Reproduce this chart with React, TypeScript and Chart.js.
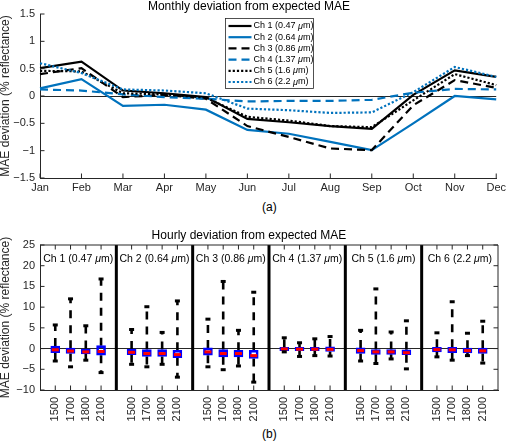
import React, { useEffect, useRef } from 'react';
import { Chart, registerables } from 'chart.js';

Chart.register(...registerables);

const FONT = '"Liberation Sans", Arial, Helvetica, sans-serif';
const AXIS = '#262626';
const MBLUE = '#0072BD';

// ---------- panel (a): monthly deviation ----------
const months = ['Jan', 'Feb', 'Mar', 'Apr', 'May', 'Jun', 'Jul', 'Aug', 'Sep', 'Oct', 'Nov', 'Dec'];
const ch1Monthly = [0.51, 0.63, 0.10, 0.05, -0.02, -0.42, -0.48, -0.55, -0.60, 0.02, 0.47, 0.35];
const ch2Monthly = [0.14, 0.31, -0.18, -0.16, -0.25, -0.62, -0.69, -0.84, -0.99, -0.50, 0.00, -0.06];
const ch3Monthly = [0.40, 0.51, -0.02, 0.02, -0.05, -0.55, -0.75, -0.96, -0.99, -0.17, 0.29, 0.15];
const ch4Monthly = [0.12, 0.10, 0.03, -0.02, -0.05, -0.10, -0.09, -0.09, -0.07, 0.06, 0.13, 0.12];
const ch5Monthly = [0.46, 0.45, 0.05, 0.03, -0.03, -0.38, -0.45, -0.55, -0.57, -0.08, 0.40, 0.20];
const ch6Monthly = [0.60, 0.42, 0.12, 0.10, 0.05, -0.23, -0.26, -0.31, -0.30, 0.07, 0.53, 0.35];
const monthlyMin = -1.5;
const monthlyMax = 1.5;
const monthlyStep = 0.5;

const channelLabels = ['Ch 1', 'Ch 2', 'Ch 3', 'Ch 4', 'Ch 5', 'Ch 6'];
const channelWavelengths = ['0.47', '0.64', '0.86', '1.37', '1.6', '2.2'];

// ---------- panel (b): hourly deviation box plots ----------
const hours = ['1500', '1700', '1800', '2100'];
const upperAdjacent = [
  [5.7, 12.0, 5.5, 16.8],
  [4.6, 10.1, 3.9, 11.5],
  [7.1, 16.2, 4.4, 13.6],
  [2.6, 1.4, 2.35, 2.9],
  [4.4, 14.4, 4.0, 6.7],
  [3.8, 11.3, 3.7, 6.6],
];
const upperQuartile = [
  [0.6, 0.1, 0.0, 0.7],
  [-0.1, -0.25, -0.25, -0.4],
  [0.15, -0.25, -0.4, -0.4],
  [0.3, 0.3, 0.3, 0.4],
  [0.15, -0.25, -0.25, -0.3],
  [0.3, 0.3, 0.1, 0.1],
];
const medians = [
  [-0.3, -0.6, -0.8, -0.7],
  [-0.9, -1.2, -1.2, -1.45],
  [-0.8, -1.2, -1.2, -1.7],
  [-0.1, -0.15, -0.15, -0.2],
  [-0.5, -0.8, -0.8, -1.0],
  [-0.25, -0.3, -0.5, -0.55],
];
const lowerQuartile = [
  [-1.0, -1.2, -1.3, -1.6],
  [-1.5, -1.9, -1.9, -2.2],
  [-1.6, -2.0, -2.0, -2.4],
  [-0.5, -0.5, -0.5, -0.7],
  [-1.2, -1.4, -1.4, -1.5],
  [-0.8, -1.0, -1.05, -1.2],
];
const lowerAdjacent = [
  [-3.0, -4.4, -2.8, -5.8],
  [-3.8, -4.4, -3.8, -6.9],
  [-4.4, -5.1, -4.2, -8.1],
  [-0.8, -1.9, -1.7, -1.8],
  [-3.0, -3.6, -2.5, -4.9],
  [-2.0, -2.8, -1.7, -3.5],
];
const hourlyMin = -10;
const hourlyMax = 25;
const hourlyStep = 5;
const groupWidth = 5; // boxes at 1..4, separator at 5, etc.

const fmt = (v: number) => (v < 0 ? '\u2212' : '') + String(Math.abs(Math.round(v * 100) / 100));

function drawRich(ctx: CanvasRenderingContext2D, x: number, y: number, size: number, align: string, i: number) {
  const plain = `${size}px ${FONT}`;
  const ital = `italic ${size}px ${FONT}`;
  const parts: [string, string][] = [
    [`${channelLabels[i]} (${channelWavelengths[i]} `, plain],
    ['\u03bc', ital],
    ['m)', plain],
  ];
  let total = 0;
  const ws = parts.map(([t, f]) => {
    ctx.font = f;
    const w = ctx.measureText(t).width;
    total += w;
    return w;
  });
  let cx = align === 'center' ? x - total / 2 : x;
  ctx.fillStyle = '#000';
  ctx.textBaseline = 'middle';
  ctx.textAlign = 'left';
  parts.forEach(([t, f], k) => {
    ctx.font = f;
    ctx.fillText(t, cx, y);
    cx += ws[k];
  });
}

const innerTicks = {
  id: 'innerTicks',
  afterDatasetsDraw(chart: any, _args: any, opts: any) {
    const { ctx, chartArea: a } = chart;
    const xs = chart.scales.x;
    const ys = chart.scales.y;
    const L = 4.5;
    ctx.save();
    ctx.strokeStyle = AXIS;
    ctx.lineWidth = 1;
    ctx.setLineDash([]);
    ctx.beginPath();
    ys.ticks.forEach((t: any) => {
      const p = ys.getPixelForValue(t.value);
      ctx.moveTo(a.left, p);
      ctx.lineTo(a.left + L, p);
      if (opts.box) {
        ctx.moveTo(a.right, p);
        ctx.lineTo(a.right - L, p);
      }
    });
    xs.ticks.forEach((_t: any, k: number) => {
      const p = xs.getPixelForTick(k);
      ctx.moveTo(p, a.bottom);
      ctx.lineTo(p, a.bottom - L);
      if (opts.box) {
        ctx.moveTo(p, a.top);
        ctx.lineTo(p, a.top + L);
      }
    });
    if (opts.box) {
      ctx.moveTo(a.left, a.top);
      ctx.lineTo(a.right, a.top);
      ctx.lineTo(a.right, a.bottom);
    }
    ctx.stroke();
    ctx.restore();
  },
};

const boxLegend = {
  id: 'boxLegend',
  afterDatasetsDraw(chart: any) {
    const { ctx } = chart;
    const x0 = 225.5;
    const y0 = 18.5;
    const w = 88;
    const h = 70;
    ctx.save();
    ctx.fillStyle = '#fff';
    ctx.fillRect(x0, y0, w, h);
    ctx.strokeStyle = AXIS;
    ctx.lineWidth = 0.8;
    ctx.setLineDash([]);
    ctx.strokeRect(x0, y0, w, h);
    chart.data.datasets.forEach((ds: any, i: number) => {
      const y = y0 + 7.5 + i * 11.2;
      ctx.beginPath();
      ctx.setLineDash(ds.borderDash || []);
      ctx.strokeStyle = ds.borderColor;
      ctx.lineWidth = ds.borderWidth;
      ctx.moveTo(x0 + 3, y);
      ctx.lineTo(x0 + 26, y);
      ctx.stroke();
      ctx.setLineDash([]);
      drawRich(ctx, x0 + 28, y, 9, 'left', i);
    });
    ctx.restore();
  },
};

const groupLabels = {
  id: 'groupLabels',
  afterDatasetsDraw(chart: any) {
    const { ctx, chartArea: a } = chart;
    const xs = chart.scales.x;
    ctx.save();
    channelLabels.forEach((_l, i) => {
      drawRich(ctx, xs.getPixelForValue(i * groupWidth + groupWidth / 2), a.top + 14, 10.5, 'center', i);
    });
    ctx.restore();
  },
};

function MonthlyChart() {
  const ref = useRef<HTMLCanvasElement>(null);
  useEffect(() => {
    const series = [ch1Monthly, ch2Monthly, ch3Monthly, ch4Monthly, ch5Monthly, ch6Monthly];
    const colors = ['#000000', MBLUE, '#000000', MBLUE, '#000000', MBLUE];
    const dashes = [[], [], [8, 5], [8, 5], [2.2, 2], [2.2, 2]];
    const chart = new Chart(ref.current!, {
      type: 'line',
      data: {
        labels: months,
        datasets: series.map((d, i) => ({
          label: channelLabels[i],
          data: d,
          borderColor: colors[i],
          backgroundColor: colors[i],
          borderWidth: 2.2,
          borderDash: dashes[i],
          pointRadius: 0,
          tension: 0,
          fill: false,
          order: 5 - i,
        })),
      },
      options: {
        responsive: false,
        animation: false,
        devicePixelRatio: 1,
        events: [],
        layout: { padding: { left: 0, right: 11, top: 0, bottom: 0 } },
        plugins: {
          legend: { display: false },
          tooltip: { enabled: false },
          title: {
            display: true,
            text: 'Monthly deviation from expected MAE',
            color: '#000',
            font: { family: FONT, size: 12, weight: 'normal', lineHeight: 1.1 },
            padding: { top: 0, bottom: 0.8 },
          },
          innerTicks: { box: false },
        } as any,
        scales: {
          x: {
            grid: { display: false, drawTicks: false },
            border: { display: true, color: AXIS, width: 1 },
            ticks: { color: AXIS, font: { family: FONT, size: 11 }, padding: 3, maxRotation: 0, autoSkip: false },
            afterFit: (s: any) => { s.height = 22; },
          },
          y: {
            min: monthlyMin,
            max: monthlyMax,
            ticks: { stepSize: monthlyStep, color: AXIS, font: { family: FONT, size: 11 }, padding: 5, callback: (v: any) => fmt(Number(v)) },
            grid: {
              drawTicks: false,
              color: (c: any) => (c.tick && c.tick.value === 0 ? AXIS : 'rgba(0,0,0,0)'),
              lineWidth: 1,
            },
            border: { display: true, color: AXIS, width: 1 },
            title: {
              display: true,
              text: 'MAE deviation (% reflectance)',
              color: AXIS,
              font: { family: FONT, size: 12, lineHeight: 1 },
              padding: { top: 0, bottom: 0 },
            },
            afterFit: (s: any) => { s.width = 40; },
          },
        },
      } as any,
      plugins: [innerTicks, boxLegend],
    });
    return () => chart.destroy();
  }, []);
  return <canvas ref={ref} width={509} height={200} style={{ position: 'absolute', left: 0, top: 0, width: 509, height: 200 }} />;
}

function HourlyChart() {
  const ref = useRef<HTMLCanvasElement>(null);
  useEffect(() => {
    const boxPos = (c: number, h: number) => c * groupWidth + h + 1;
    const positions: number[] = [];
    const whiskers: any[] = [];
    const boxes: any[] = [];
    const meds: any[] = [];
    const caps: any[] = [];
    channelLabels.forEach((_l, c) => {
      hours.forEach((_h, h) => {
        const x = boxPos(c, h);
        positions.push(x);
        whiskers.push(
          { x, y: upperQuartile[c][h] }, { x, y: upperAdjacent[c][h] }, { x, y: null },
          { x, y: lowerQuartile[c][h] }, { x, y: lowerAdjacent[c][h] }, { x, y: null },
        );
        boxes.push({ x, y: [lowerQuartile[c][h], upperQuartile[c][h]] });
        meds.push({ x, y: medians[c][h] });
        caps.push({ x, y: upperAdjacent[c][h] }, { x, y: lowerAdjacent[c][h] });
      });
    });
    const separators: any[] = [];
    for (let c = 1; c < channelLabels.length; c++) {
      const x = c * groupWidth;
      separators.push({ x, y: hourlyMin }, { x, y: hourlyMax }, { x, y: null });
    }
    const chart = new Chart(ref.current!, {
      type: 'bar',
      data: {
        datasets: [
          {
            type: 'scatter',
            data: caps,
            showLine: false,
            pointStyle: 'line',
            pointRadius: 2.5,
            pointBorderWidth: 3,
            pointBorderColor: '#000',
            pointBackgroundColor: '#000',
            order: 0,
          },
          {
            type: 'scatter',
            data: meds,
            showLine: false,
            pointStyle: 'line',
            pointRadius: 3.5,
            pointBorderWidth: 3,
            pointBorderColor: '#ff0000',
            pointBackgroundColor: '#ff0000',
            order: 1,
          },
          {
            type: 'bar',
            data: boxes,
            barThickness: 9,
            borderWidth: 2,
            borderColor: '#0000ff',
            backgroundColor: 'rgba(0,0,0,0)',
            borderSkipped: false,
            order: 2,
          },
          {
            type: 'scatter',
            data: whiskers,
            showLine: true,
            spanGaps: false,
            borderColor: '#000',
            borderWidth: 2.6,
            borderDash: [8, 7],
            pointRadius: 0,
            order: 3,
          },
          {
            type: 'scatter',
            data: separators,
            showLine: true,
            spanGaps: false,
            borderColor: '#000',
            borderWidth: 3,
            pointRadius: 0,
            order: 4,
          },
        ],
      } as any,
      options: {
        responsive: false,
        animation: false,
        devicePixelRatio: 1,
        events: [],
        layout: { padding: { left: 0, right: 11, top: 0, bottom: 0 } },
        plugins: {
          legend: { display: false },
          tooltip: { enabled: false },
          title: {
            display: true,
            text: 'Hourly deviation from expected MAE',
            color: '#000',
            font: { family: FONT, size: 12, weight: 'normal', lineHeight: 1.2 },
            padding: { top: 6.3, bottom: 2.3 },
          },
          innerTicks: { box: true },
        } as any,
        scales: {
          x: {
            type: 'linear',
            min: 0,
            max: channelLabels.length * groupWidth,
            offset: false,
            grid: { display: false, drawTicks: false, offset: false },
            border: { display: true, color: AXIS, width: 1 },
            afterBuildTicks: (s: any) => { s.ticks = positions.map((v) => ({ value: v })); },
            ticks: {
              color: AXIS,
              font: { family: FONT, size: 11 },
              padding: 7,
              minRotation: 90,
              maxRotation: 90,
              autoSkip: false,
              callback: (v: any) => hours[(Math.round(Number(v)) % groupWidth) - 1] ?? '',
            },
            afterFit: (s: any) => { s.height = 35; },
          },
          y: {
            type: 'linear',
            min: hourlyMin,
            max: hourlyMax,
            ticks: { stepSize: hourlyStep, color: AXIS, font: { family: FONT, size: 11 }, padding: 5, callback: (v: any) => fmt(Number(v)) },
            grid: {
              drawTicks: false,
              color: (c: any) => (c.tick && c.tick.value === 0 ? AXIS : 'rgba(0,0,0,0)'),
              lineWidth: 1,
            },
            border: { display: true, color: AXIS, width: 1 },
            title: {
              display: true,
              text: 'MAE deviation (% reflectance)',
              color: AXIS,
              font: { family: FONT, size: 12, lineHeight: 1 },
              padding: { top: 0, bottom: 0 },
            },
            afterFit: (s: any) => { s.width = 40; },
          },
        },
      } as any,
      plugins: [innerTicks, groupLabels],
    });
    return () => chart.destroy();
  }, []);
  return <canvas ref={ref} width={509} height={203} style={{ position: 'absolute', left: 0, top: 222, width: 509, height: 203 }} />;
}

export default function App() {
  const lab: React.CSSProperties = { position: 'absolute', fontFamily: FONT, fontSize: 12, lineHeight: '12px', color: '#000' };
  return (
    <div style={{ position: 'absolute', left: 0, top: 0, width: 509, height: 442, background: '#fff', overflow: 'hidden' }}>
      <MonthlyChart />
      <div style={{ ...lab, left: 262, top: 201 }}>(a)</div>
      <HourlyChart />
      <div style={{ ...lab, left: 262, top: 428 }}>(b)</div>
    </div>
  );
}
